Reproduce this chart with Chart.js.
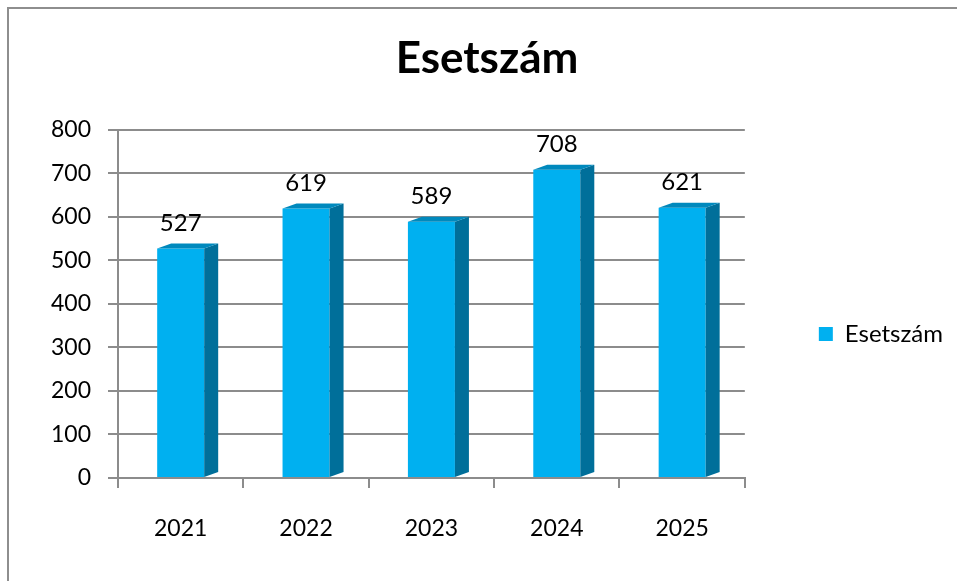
<!DOCTYPE html>
<html lang="hu">
<head>
<meta charset="utf-8">
<title>Esetszám</title>
<script src="https://cdn.jsdelivr.net/npm/chart.js@4"></script>
<style>
    html, body { margin: 0; padding: 0; background: #fff; }
    #keret { position: relative; width: 957px; height: 581px; overflow: hidden; }
    #keret::before {
        content: '';
        position: absolute;
        left: 7px;
        top: 7px;
        width: 2000px;
        height: 2000px;
        border-left: 2px solid #8e8e8e;
        border-top: 2px solid #8e8e8e;
    }
    canvas { position: absolute; left: 0; top: 0; }
</style>
</head>
<body>
<div id="keret">
    <canvas id="graficoEsetszam" width="957" height="581"></canvas>
</div>
<script>
const evek = ['2021', '2022', '2023', '2024', '2025'];
const esetszamok = [527, 619, 589, 708, 621];
const yTengelyMin = 0;
const yTengelyMax = 800;
const yTengelyLepes = 100;

const szinOszlop = '#00b0f0';
const szinOldal = '#006f9a';
const szinTeto = '#0089bd';
const szinRacs = '#8c8c8c';

Chart.defaults.font.family = 'Lato';

// Oszlopok "3D" oldala, teteje és a felirat az oszlop fölött
const oszlop3D = {
    id: 'oszlop3D',
    afterDatasetsDraw(chart) {
        const ctx = chart.ctx;
        const meta = chart.getDatasetMeta(0);
        const dx = 14, dy = 5;

        meta.data.forEach((oszlop, i) => {
            const { x, y, base, width } = oszlop.getProps(['x', 'y', 'base', 'width'], true);
            const bal = x - width / 2;
            const jobb = x + width / 2;

            ctx.save();
            ctx.fillStyle = szinOldal;
            ctx.beginPath();
            ctx.moveTo(jobb, y);
            ctx.lineTo(jobb + dx, y - dy);
            ctx.lineTo(jobb + dx, base - dy);
            ctx.lineTo(jobb, base);
            ctx.closePath();
            ctx.fill();

            ctx.fillStyle = szinTeto;
            ctx.beginPath();
            ctx.moveTo(bal, y);
            ctx.lineTo(bal + dx, y - dy);
            ctx.lineTo(jobb + dx, y - dy);
            ctx.lineTo(jobb, y);
            ctx.closePath();
            ctx.fill();

            ctx.fillStyle = '#000';
            ctx.font = '24px Lato';
            ctx.textAlign = 'center';
            ctx.textBaseline = 'alphabetic';
            ctx.fillText(esetszamok[i], x, y - 18);
            ctx.restore();
        });
    }
};

const ctxEsetszam = document.getElementById('graficoEsetszam').getContext('2d');
const graficoEsetszam = new Chart(ctxEsetszam, {
    type: 'bar',
    data: {
        labels: evek,
        datasets: [{
            label: 'Esetszám',
            data: esetszamok,
            backgroundColor: szinOszlop,
            borderWidth: 0,
            barPercentage: 0.375,
            categoryPercentage: 1
        }]
    },
    options: {
        responsive: false,
        animation: false,
        events: [],
        layout: {
            padding: { left: 21, right: 4, top: 0, bottom: 39 }
        },
        scales: {
            x: {
                afterFit: (skala) => { skala.height = 64; },
                grid: {
                    drawOnChartArea: false,
                    drawTicks: true,
                    tickLength: 10,
                    color: szinRacs,
                    lineWidth: 2
                },
                border: { display: true, color: szinRacs, width: 2 },
                ticks: {
                    color: '#000',
                    font: { size: 23 },
                    padding: 27,
                    maxRotation: 0
                }
            },
            y: {
                min: yTengelyMin,
                max: yTengelyMax,
                afterFit: (skala) => { skala.width = 97; },
                grid: {
                    color: szinRacs,
                    lineWidth: 2,
                    tickLength: 10
                },
                border: { display: true, color: szinRacs, width: 2 },
                ticks: {
                    stepSize: yTengelyLepes,
                    color: '#000',
                    font: { size: 23 },
                    padding: 17
                }
            }
        },
        plugins: {
            title: {
                display: true,
                text: 'Esetszám',
                color: '#000',
                font: { size: 44, weight: 'bold' },
                padding: { top: 32, bottom: 45 }
            },
            legend: {
                display: true,
                position: 'right',
                fullSize: false,
                title: {
                    display: true,
                    text: '',
                    font: { size: 12, lineHeight: 1 },
                    padding: { top: 0, bottom: 48 }
                },
                labels: {
                    boxWidth: 14,
                    boxHeight: 14,
                    padding: 74,
                    color: '#000',
                    font: { size: 24 }
                }
            },
            tooltip: { enabled: false }
        }
    },
    plugins: [oszlop3D]
});
</script>
</body>
</html>
